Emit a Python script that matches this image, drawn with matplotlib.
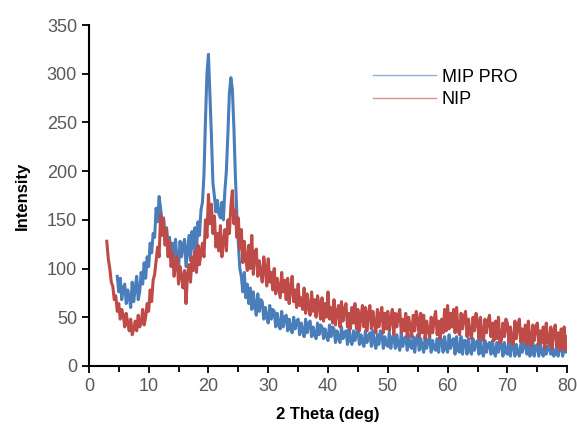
import numpy as np
import matplotlib
matplotlib.use("Agg")
import matplotlib.pyplot as plt
from matplotlib.ticker import MultipleLocator

plt.rcParams['font.family'] = ['Liberation Sans', 'DejaVu Sans']

# 2-theta grids (0.25 deg steps)
theta_nip = np.arange(3, 80.001, 0.25)
theta_mip = np.arange(4.75, 80.001, 0.25)

# NIP intensity, one row per degree starting at 3
nip = [
    128, 110, 100, 86,
    82, 68, 72, 56,
    64, 48, 58, 52,
    40, 54, 44, 36,
    48, 32, 38, 46,
    36, 52, 40, 44,
    58, 42, 50, 64,
    56, 78, 66, 88,
    94, 108, 122, 112,
    156, 134, 150, 124,
    140, 112, 128, 102,
    116, 92, 104, 112,
    84, 102, 92, 80,
    98, 64, 94, 104,
    86, 112, 98, 118,
    96, 124, 104, 116,
    126, 112, 150, 132,
    176, 146, 166, 136,
    154, 122, 136, 118,
    144, 112, 128, 140,
    118, 150, 136, 164,
    180, 146, 160, 132,
    152, 120, 140, 106,
    128, 110, 98, 124,
    100, 134, 94, 116,
    120, 92, 108, 96,
    86, 112, 100, 82,
    110, 86, 96, 78,
    100, 74, 90, 80,
    70, 96, 76, 88,
    68, 90, 64, 80,
    92, 66, 78, 60,
    84, 62, 70, 58,
    80, 54, 74, 60,
    52, 76, 56, 68,
    50, 72, 62, 48,
    70, 46, 64, 50,
    76, 48, 60, 44,
    68, 42, 56, 62,
    40, 66, 46, 58,
    64, 40, 54, 38,
    60, 44, 64, 38,
    58, 36, 50, 62,
    40, 60, 36, 54,
    62, 38, 56, 44,
    34, 58, 40, 52,
    60, 34, 54, 38,
    56, 36, 48, 58,
    32, 54, 40, 52,
    58, 34, 48, 36,
    54, 30, 50, 40,
    30, 52, 36, 56,
    48, 30, 54, 34,
    52, 28, 46, 36,
    30, 50, 34, 48,
    56, 32, 46, 28,
    48, 34, 58, 36,
    62, 38, 54, 40,
    58, 34, 60, 36,
    32, 54, 38, 50,
    56, 30, 48, 34,
    28, 50, 36, 54,
    46, 28, 50, 32,
    26, 48, 34, 46,
    52, 30, 44, 26,
    46, 28, 50, 24,
    26, 44, 30, 48,
    44, 24, 40, 26,
    22, 46, 28, 42,
    48, 24, 38, 26,
    42, 22, 46, 28,
    20, 42, 26, 40,
    44, 22, 36, 24,
    40, 18, 44, 24,
    22, 40, 18, 36,
    42, 20, 34, 16,
    38, 18, 40, 16,
    30,
]

# MIP PRO intensity, first value at 4.75, then one row per degree from 5
mip = [
    92,
    76, 90, 68, 80,
    84, 64, 78, 70,
    60, 86, 66, 80,
    92, 68, 76, 96,
    84, 106, 90, 112,
    102, 126, 116, 136,
    132, 162, 148, 174,
    162, 146, 152, 128,
    142, 116, 132, 110,
    126, 104, 130, 108,
    100, 128, 112, 124,
    130, 102, 118, 134,
    108, 138, 120, 142,
    118, 148, 134, 160,
    168, 196, 252, 300,
    320, 278, 236, 188,
    174, 158, 170, 156,
    152, 168, 150, 180,
    200, 238, 280, 296,
    284, 246, 196, 156,
    126, 100, 92, 76,
    96, 70, 84, 64,
    80, 58, 76, 62,
    52, 74, 56, 68,
    66, 48, 60, 50,
    44, 62, 48, 58,
    56, 40, 54, 42,
    38, 56, 40, 50,
    52, 36, 48, 38,
    34, 50, 38, 46,
    48, 32, 44, 36,
    30, 48, 34, 44,
    46, 30, 40, 32,
    28, 44, 32, 42,
    40, 28, 38, 30,
    26, 42, 30, 40,
    38, 24, 36, 28,
    24, 40, 28, 34,
    36, 22, 38, 26,
    22, 36, 26, 34,
    38, 22, 32, 24,
    20, 36, 24, 30,
    34, 20, 36, 24,
    18, 32, 22, 36,
    32, 18, 30, 22,
    20, 34, 18, 30,
    30, 18, 32, 22,
    16, 34, 20, 28,
    30, 16, 32, 20,
    18, 30, 14, 28,
    32, 16, 28, 20,
    14, 30, 18, 26,
    30, 14, 26, 18,
    16, 28, 14, 30,
    26, 14, 30, 18,
    14, 32, 18, 26,
    28, 12, 30, 16,
    14, 30, 12, 26,
    26, 12, 28, 16,
    12, 28, 16, 24,
    26, 12, 28, 14,
    10, 26, 14, 22,
    24, 12, 26, 14,
    10, 24, 14, 26,
    22, 10, 24, 14,
    12, 26, 10, 22,
    24, 10, 22, 14,
    10, 22, 14, 24,
    22, 12, 24, 10,
    12, 24, 10, 20,
    22, 10, 24, 14,
    10, 22, 12, 20,
    20, 12, 22, 10,
    12, 20, 10, 22,
    20, 10, 22, 14,
    16,
]

fig = plt.figure(figsize=(5.77, 4.33), dpi=100)
ax = fig.add_axes([0.154, 0.155, 0.829, 0.787])

ax.plot(theta_mip, mip, color='#4a7ebb', lw=2.2, label='MIP PRO')
ax.plot(theta_nip, nip, color='#be4b48', lw=2.2, label='NIP')

ax.set_xlim(0, 80)
ax.set_ylim(0, 350)
ax.xaxis.set_major_locator(MultipleLocator(10))
ax.xaxis.set_minor_locator(MultipleLocator(5))
ax.yaxis.set_major_locator(MultipleLocator(50))

for s in ['top', 'right']:
    ax.spines[s].set_visible(False)
for s in ['left', 'bottom']:
    ax.spines[s].set_linewidth(1.5)

ax.tick_params(axis='both', which='major', length=5, width=1.3,
               labelsize=13, labelcolor='#595959', direction='out')
ax.tick_params(axis='x', which='minor', length=4, width=1.3, direction='out')

ax.set_xlabel('2 Theta (deg)', fontsize=12, fontweight='bold', labelpad=9)
ax.set_ylabel('Intensity', fontsize=12, fontweight='bold', labelpad=12)

leg = ax.legend(loc='upper left', bbox_to_anchor=(0.56, 0.92), frameon=False,
                fontsize=13, handlelength=3.5, handletextpad=0.3,
                labelspacing=0.3)
for line in leg.get_lines():
    line.set_linewidth(1.0)
    line.set_alpha(0.6)

fig.savefig('out.png', dpi=100)
